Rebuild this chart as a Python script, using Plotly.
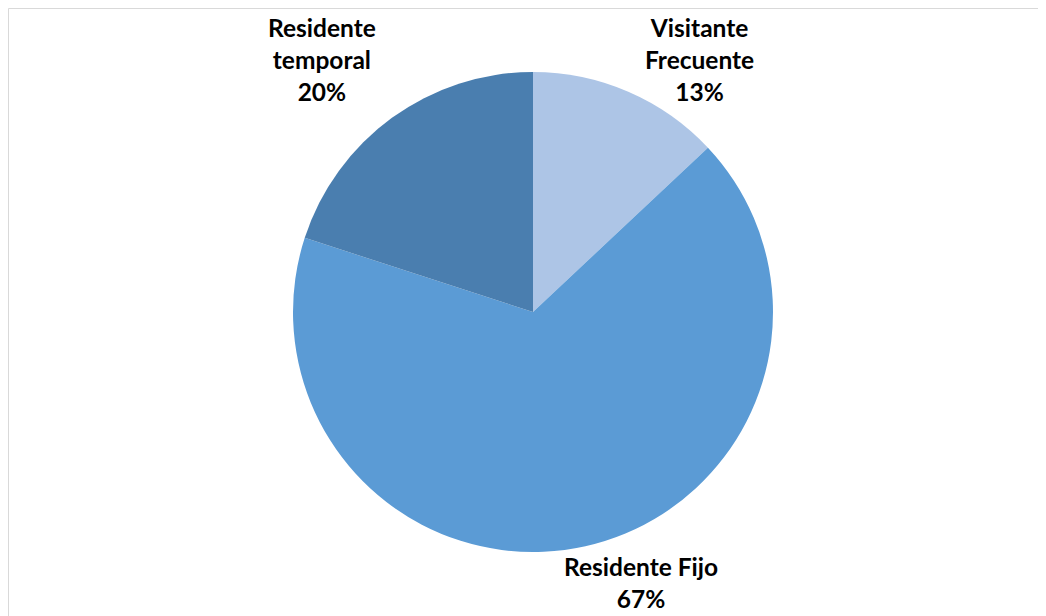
import plotly.graph_objects as go

categories = ["Visitante Frecuente", "Residente Fijo", "Residente temporal"]
values = [13, 67, 20]
colors = ["#ADC5E6", "#5B9BD5", "#4A7EAF"]
label_lines = ["Visitante<br>Frecuente<br>13%", "Residente Fijo<br>67%", "Residente<br>temporal<br>20%"]

# page is offset by the default 8px body margin
OFF = 8
W, H = 1046 - OFF, 616 - OFF


def px_x(p):
    return (p - OFF) / W


def px_y(p):
    return 1 - (p - OFF) / H


fig = go.Figure(go.Pie(
    labels=categories,
    values=values,
    sort=False,
    direction="clockwise",
    rotation=0,
    marker=dict(colors=colors, line=dict(width=0)),
    textinfo="none",
    hoverinfo="label+percent",
    showlegend=False,
    domain=dict(x=[px_x(293), px_x(773)], y=[px_y(552), px_y(72)]),
))

font = dict(family="Lato", size=24.5, color="#000000")
ann_pos = [(699, 59.5), (641, 582), (322, 59.5)]
for txt, (px, py) in zip(label_lines, ann_pos):
    fig.add_annotation(
        text="<b>" + txt + "</b>", x=px_x(px), y=px_y(py),
        xref="paper", yref="paper", xanchor="center", yanchor="middle",
        showarrow=False, font=font, align="center",
    )

# chart border (left and top edges visible)
fig.add_shape(type="line", xref="paper", yref="paper",
              x0=0.5 / W, x1=0.5 / W, y0=0, y1=1 - 0.5 / H,
              line=dict(color="#D9D9D9", width=1))
fig.add_shape(type="line", xref="paper", yref="paper",
              x0=0.5 / W, x1=1, y0=1 - 0.5 / H, y1=1 - 0.5 / H,
              line=dict(color="#D9D9D9", width=1))

fig.update_layout(
    width=W, height=H,
    margin=dict(l=0, r=0, t=0, b=0),
    paper_bgcolor="white",
    plot_bgcolor="white",
)

fig.write_html("out.html")
